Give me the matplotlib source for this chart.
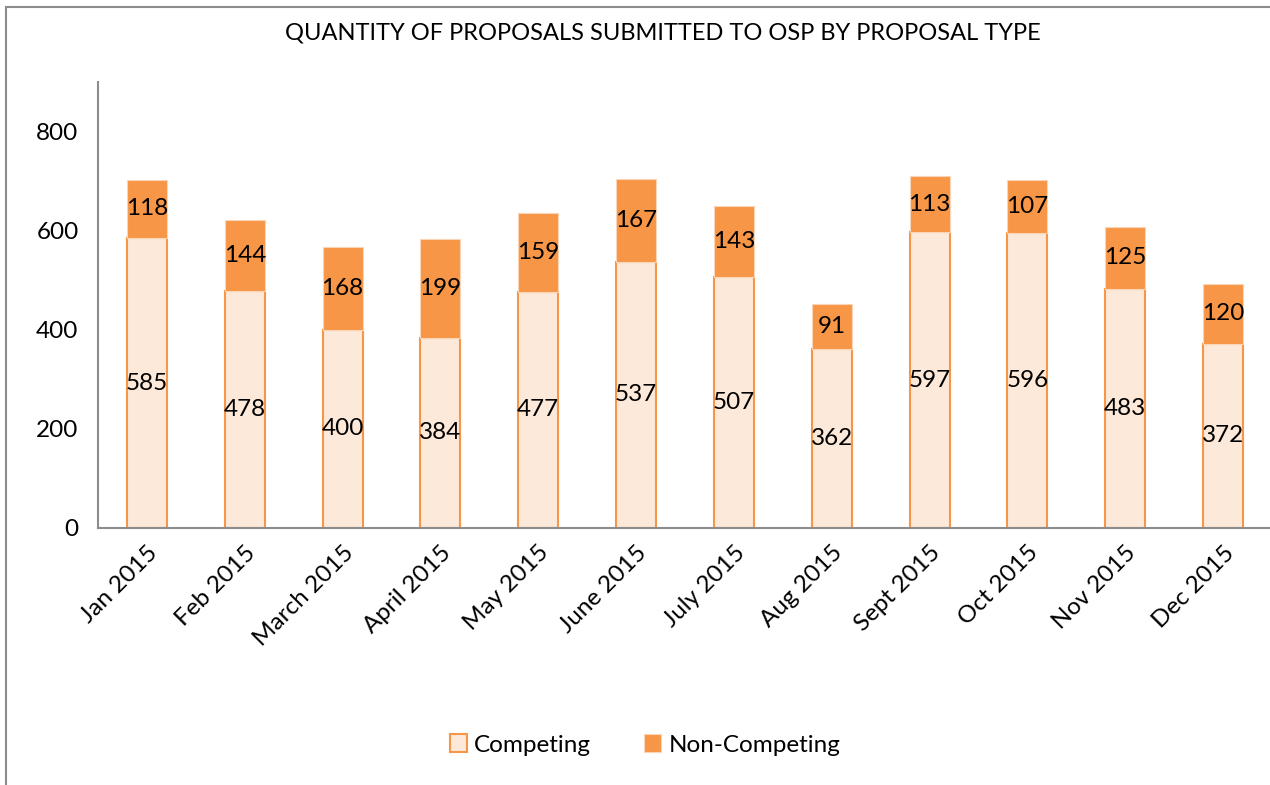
import matplotlib
matplotlib.use("Agg")
import matplotlib.pyplot as plt
from matplotlib.patches import Rectangle
import numpy as np

months = ["Jan 2015", "Feb 2015", "March 2015", "April 2015", "May 2015", "June 2015",
          "July 2015", "Aug 2015", "Sept 2015", "Oct 2015", "Nov 2015", "Dec 2015"]
competing = [585, 478, 400, 384, 477, 537, 507, 362, 597, 596, 483, 372]
non_competing = [118, 144, 168, 199, 159, 167, 143, 91, 113, 107, 125, 120]
yticks = [0, 200, 400, 600, 800]

plt.rcParams['font.family'] = ['Lato', 'DejaVu Sans']

W, H = 1270, 785
fig = plt.figure(figsize=(W / 100, H / 100), dpi=100)

# outer chart border (left/top visible)
fig.add_artist(Rectangle((6 / W, -0.1), 1.2, (H - 7) / H + 0.1, transform=fig.transFigure,
                         fill=False, edgecolor="#8c8c8c", linewidth=1.5))

ax = fig.add_axes([98 / W, 1 - 528 / H, (1272 - 98) / W, (528 - 82) / H])
x = np.arange(len(months))
c_comp_face = "#fde9d9"
c_orange = "#f79646"
ax.bar(x, competing, width=0.41, color=c_comp_face, edgecolor=c_orange, linewidth=1.5,
       label="Competing", zorder=2)
ax.bar(x, non_competing, width=0.41, bottom=competing, color=c_orange, edgecolor="#fbd5b5",
       linewidth=0.8, label="Non-Competing", zorder=2)

for i in range(len(months)):
    ax.text(x[i], competing[i] / 2, str(competing[i]), ha="center", va="center",
            fontsize=17.5, color="black", zorder=3)
    ax.text(x[i], competing[i] + non_competing[i] / 2, str(non_competing[i]), ha="center",
            va="center", fontsize=17.5, color="black", zorder=3)

ax.set_xlim(-0.5, len(months) - 0.5)
ax.set_ylim(0, 900)
ax.set_yticks(yticks)
ax.set_yticklabels([str(v) for v in yticks], fontsize=17.5)
ax.set_xticks(x)
ax.set_xticklabels(months, rotation=45, ha="right", rotation_mode="anchor", fontsize=17.5)
ax.tick_params(axis="both", length=0, pad=14)
ax.tick_params(axis="x", pad=10)
for s in ["top", "right"]:
    ax.spines[s].set_visible(False)
for s in ["left", "bottom"]:
    ax.spines[s].set_color("#8c8c8c")
    ax.spines[s].set_linewidth(1.5)

fig.text(663 / W, 1 - 33 / H, "QUANTITY OF PROPOSALS SUBMITTED TO OSP BY PROPOSAL TYPE",
         ha="center", va="center", fontsize=17)

leg = fig.legend(loc="center", bbox_to_anchor=(645 / W, 1 - 745 / H), ncol=2, frameon=False,
                 fontsize=17.5, handlelength=0.7, handleheight=0.7, handletextpad=0.3,
                 columnspacing=2.2)

fig.savefig("out.png", dpi=100)
